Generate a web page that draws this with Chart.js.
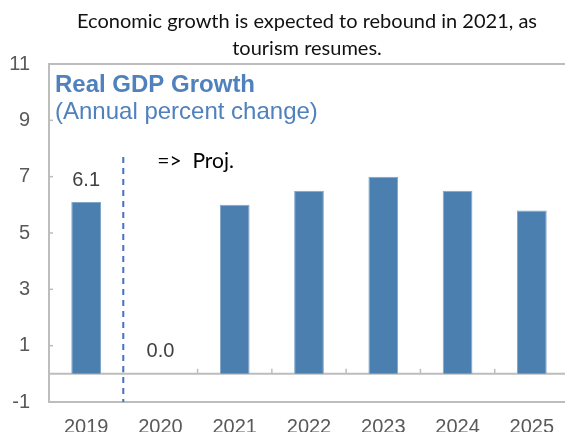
<!DOCTYPE html>
<html>
<head>
<meta charset="utf-8">
<script src="https://cdn.jsdelivr.net/npm/chart.js@4"></script>
<style>
  html, body { margin: 0; padding: 0; background: #fff; overflow: hidden; }
  canvas { display: block; }
</style>
</head>
<body>
<canvas id="gdpChart" width="570" height="433"></canvas>
<script>
// Real GDP growth, annual percent change
const years = ["2019", "2020", "2021", "2022", "2023", "2024", "2025"];
const growth = [6.1, 0.0, 6.0, 6.5, 7.0, 6.5, 5.8];
const labelledYears = ["2019", "2020"];
const projectionStart = "2020";
const yTicks = [-1, 1, 3, 5, 7, 9, 11];

const titleLines = ["Economic growth is expected to rebound in 2021, as", "tourism resumes."];

const axisGray = "#BDBDBD";
const barBlue = "#4A7FAF";
const headBlue = "#4F81BD";
const tickFont = "20px 'Liberation Sans', Arial, sans-serif";

// frame, zero line, small tick marks, value labels and notes
const decorations = {
  id: "decorations",
  beforeDatasetsDraw(chart) {
    const { ctx, chartArea: a, scales: { x, y } } = chart;
    ctx.save();
    ctx.strokeStyle = axisGray;
    ctx.lineWidth = 2;
    ctx.strokeRect(a.left, a.top, a.right - a.left, a.bottom - a.top);

    const y0 = y.getPixelForValue(0);
    ctx.beginPath();
    ctx.moveTo(a.left, y0);
    ctx.lineTo(a.right, y0);
    ctx.stroke();

    // category boundary ticks pointing up from the zero line
    ctx.lineWidth = 1.5;
    for (let i = 0; i < years.length - 1; i++) {
      const bx = (x.getPixelForValue(i) + x.getPixelForValue(i + 1)) / 2;
      ctx.beginPath();
      ctx.moveTo(bx, y0);
      ctx.lineTo(bx, y0 - 5);
      ctx.stroke();
    }
    // inward ticks on the value axis
    yTicks.forEach(v => {
      const ty = y.getPixelForValue(v);
      ctx.beginPath();
      ctx.moveTo(a.left, ty);
      ctx.lineTo(a.left + 4, ty);
      ctx.stroke();
    });
    ctx.restore();
  },
  afterDatasetsDraw(chart) {
    const { ctx, chartArea: a, scales: { x, y } } = chart;
    ctx.save();

    // value labels above the first two bars
    ctx.font = tickFont;
    ctx.fillStyle = "#404040";
    ctx.textAlign = "center";
    ctx.textBaseline = "middle";
    labelledYears.forEach(yr => {
      const i = years.indexOf(yr);
      const top = y.getPixelForValue(Math.max(growth[i], 0));
      ctx.fillText(growth[i].toFixed(1), x.getPixelForValue(i), top - 22);
    });

    // projection divider
    const pi = years.indexOf(projectionStart);
    const px = (x.getPixelForValue(pi - 1) + x.getPixelForValue(pi)) / 2;
    ctx.strokeStyle = "#4472C4";
    ctx.lineWidth = 2;
    ctx.setLineDash([6, 5]);
    ctx.beginPath();
    ctx.moveTo(px, y.getPixelForValue(7.7));
    ctx.lineTo(px, a.bottom);
    ctx.stroke();
    ctx.setLineDash([]);

    ctx.fillStyle = "#000";
    ctx.textAlign = "left";
    ctx.font = "21px Lato, 'Open Sans', sans-serif";
    ctx.fillText("=>  Proj.", px + 34, y.getPixelForValue(7.55));

    // chart heading inside the plot
    ctx.fillStyle = headBlue;
    ctx.textBaseline = "alphabetic";
    ctx.font = "bold 24px 'Liberation Sans', Arial, sans-serif";
    ctx.fillText("Real GDP Growth", a.left + 6, 92);
    ctx.font = "24px 'Liberation Sans', Arial, sans-serif";
    ctx.fillText("(Annual percent change)", a.left + 6, 119);

    // title above the plot
    ctx.fillStyle = "#111";
    ctx.textAlign = "center";
    ctx.font = "20px Lato, 'Open Sans', sans-serif";
    const cx = (a.left + 565) / 2;
    ctx.fillText(titleLines[0], cx, 28);
    ctx.fillText(titleLines[1], cx, 55);
    ctx.restore();
  }
};

new Chart(document.getElementById("gdpChart"), {
  type: "bar",
  data: {
    labels: years,
    datasets: [{
      data: growth,
      backgroundColor: barBlue,
      borderColor: "#7EA6CA",
      borderWidth: 1,
      barPercentage: 0.4,
      categoryPercentage: 1.0
    }]
  },
  options: {
    responsive: false,
    animation: false,
    layout: { padding: { top: 64, right: 1, left: 0, bottom: 0 } },
    plugins: {
      legend: { display: false },
      tooltip: { enabled: false }
    },
    scales: {
      x: {
        grid: { display: false, drawTicks: false },
        border: { display: false },
        ticks: { color: "#595959", font: { family: "'Liberation Sans', Arial, sans-serif", size: 20 }, padding: 13, maxRotation: 0 },
        afterFit(scale) { scale.height = 30; }
      },
      y: {
        min: -1,
        max: 11,
        grid: { display: false, drawTicks: false },
        border: { display: false },
        ticks: { stepSize: 2, color: "#595959", font: { family: "'Liberation Sans', Arial, sans-serif", size: 20 }, padding: 19 },
        afterFit(scale) { scale.width = 49; }
      }
    }
  },
  plugins: [decorations]
});
</script>
</body>
</html>
